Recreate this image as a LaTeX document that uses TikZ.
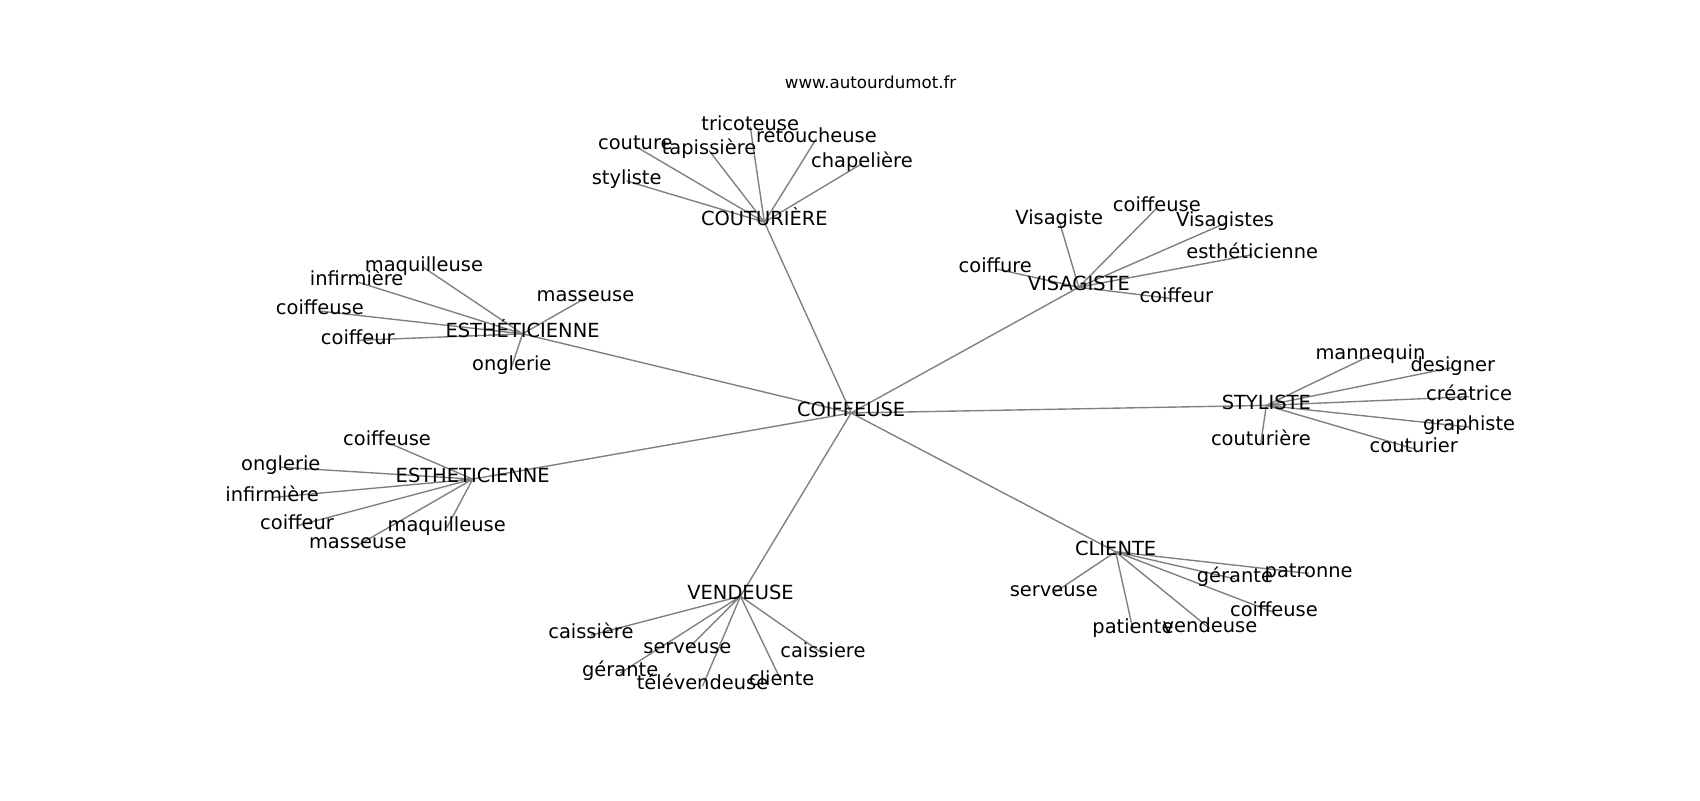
\documentclass[tikz,border=0pt]{standalone}
\usepackage{fontspec}
\setmainfont{DejaVu Sans}
\usetikzlibrary{backgrounds}

\tikzset{
	mot/.style={inner sep=0pt, text height=0.76em, text depth=0.23em, yshift=-0.8mm, font=\fontsize{14bp}{16bp}\selectfont},
	titre/.style={inner sep=0pt, font=\fontsize{12bp}{14bp}\selectfont},
	lien/.style={draw=gray, line width=1bp},
}

\begin{document}
\begin{tikzpicture}[x=0.2754mm, y=-0.2754mm]
		\useasboundingbox (0,0) rectangle (1568,738);
		\node[titre] (site) at (803,76) {www.autourdumot.fr};
		
		% centre et groupes
		\node[mot] (coif) at (785,378) {COIFFEUSE};
		\node[mot] (cout) at (705,202) {COUTURIÈRE};
		\node[mot] (esth) at (482,305) {ESTHÉTICIENNE};
		\node[mot] (visa) at (995,262) {VISAGISTE};
		\node[mot] (styl) at (1168,371) {STYLISTE};
		\node[mot] (esthb) at (436,439) {ESTHETICIENNE};
		\node[mot] (vend) at (683,547) {VENDEUSE};
		\node[mot] (cli) at (1029,506) {CLIENTE};
		
		% COUTURIÈRE
		\node[mot] (cout1) at (578,164) {styliste};
		\node[mot] (cout2) at (586,132) {couture};
		\node[mot] (cout3) at (654,136) {tapissière};
		\node[mot] (cout4) at (692,114) {tricoteuse};
		\node[mot] (cout5) at (753,125) {retoucheuse};
		\node[mot] (cout6) at (795,148) {chapelière};
		
		% ESTHÉTICIENNE
		\node[mot] (esth1) at (391,244) {maquilleuse};
		\node[mot] (esth2) at (329,257) {infirmière};
		\node[mot] (esth3) at (295,284) {coiffeuse};
		\node[mot] (esth4) at (330,311) {coiffeur};
		\node[mot] (esth5) at (540,272) {masseuse};
		\node[mot] (esth6) at (472,335) {onglerie};
		
		% VISAGISTE
		\node[mot] (visa1) at (977,201) {Visagiste};
		\node[mot] (visa2) at (1067,189) {coiffeuse};
		\node[mot] (visa3) at (1130,203) {Visagistes};
		\node[mot] (visa4) at (1155,232) {esthéticienne};
		\node[mot] (visa5) at (918,245) {coiffure};
		\node[mot] (visa6) at (1085,273) {coiffeur};
		
		% STYLISTE
		\node[mot] (styl1) at (1264,325) {mannequin};
		\node[mot] (styl2) at (1340,336) {designer};
		\node[mot] (styl3) at (1355,363) {créatrice};
		\node[mot] (styl4) at (1355,391) {graphiste};
		\node[mot] (styl5) at (1304,411) {couturier};
		\node[mot] (styl6) at (1163,405) {couturière};
		
		% ESTHETICIENNE
		\node[mot] (esthb1) at (357,405) {coiffeuse};
		\node[mot] (esthb2) at (259,428) {onglerie};
		\node[mot] (esthb3) at (251,456) {infirmière};
		\node[mot] (esthb4) at (274,482) {coiffeur};
		\node[mot] (esthb5) at (330,500) {masseuse};
		\node[mot] (esthb6) at (412,484) {maquilleuse};
		
		% VENDEUSE
		\node[mot] (vend1) at (545,583) {caissière};
		\node[mot] (vend2) at (634,596) {serveuse};
		\node[mot] (vend3) at (572,618) {gérante};
		\node[mot] (vend4) at (648,630) {télévendeuse};
		\node[mot] (vend5) at (721,626) {cliente};
		\node[mot] (vend6) at (759,600) {caissiere};
		
		% CLIENTE
		\node[mot] (cli1) at (972,544) {serveuse};
		\node[mot] (cli2) at (1045,578) {patiente};
		\node[mot] (cli3) at (1116,577) {vendeuse};
		\node[mot] (cli4) at (1175,562) {coiffeuse};
		\node[mot] (cli5) at (1139,531) {gérante};
		\node[mot] (cli6) at (1207,526) {patronne};
		
		\begin{pgfonlayer}{background}
			\draw[lien] (coif.center) -- (cout.center) (coif.center) -- (esth.center) (coif.center) -- (visa.center) (coif.center) -- (styl.center);
			\draw[lien] (coif.center) -- (esthb.center) (coif.center) -- (vend.center) (coif.center) -- (cli.center);
			\draw[lien] (cout.center) -- (cout1.center) (cout.center) -- (cout2.center) (cout.center) -- (cout3.center);
			\draw[lien] (cout.center) -- (cout4.center) (cout.center) -- (cout5.center) (cout.center) -- (cout6.center);
			\draw[lien] (esth.center) -- (esth1.center) (esth.center) -- (esth2.center) (esth.center) -- (esth3.center);
			\draw[lien] (esth.center) -- (esth4.center) (esth.center) -- (esth5.center) (esth.center) -- (esth6.center);
			\draw[lien] (visa.center) -- (visa1.center) (visa.center) -- (visa2.center) (visa.center) -- (visa3.center);
			\draw[lien] (visa.center) -- (visa4.center) (visa.center) -- (visa5.center) (visa.center) -- (visa6.center);
			\draw[lien] (styl.center) -- (styl1.center) (styl.center) -- (styl2.center) (styl.center) -- (styl3.center);
			\draw[lien] (styl.center) -- (styl4.center) (styl.center) -- (styl5.center) (styl.center) -- (styl6.center);
			\draw[lien] (esthb.center) -- (esthb1.center) (esthb.center) -- (esthb2.center) (esthb.center) -- (esthb3.center);
			\draw[lien] (esthb.center) -- (esthb4.center) (esthb.center) -- (esthb5.center) (esthb.center) -- (esthb6.center);
			\draw[lien] (vend.center) -- (vend1.center) (vend.center) -- (vend2.center) (vend.center) -- (vend3.center);
			\draw[lien] (vend.center) -- (vend4.center) (vend.center) -- (vend5.center) (vend.center) -- (vend6.center);
			\draw[lien] (cli.center) -- (cli1.center) (cli.center) -- (cli2.center) (cli.center) -- (cli3.center);
			\draw[lien] (cli.center) -- (cli4.center) (cli.center) -- (cli5.center) (cli.center) -- (cli6.center);
		\end{pgfonlayer}
		
	\end{tikzpicture}
\end{document}
